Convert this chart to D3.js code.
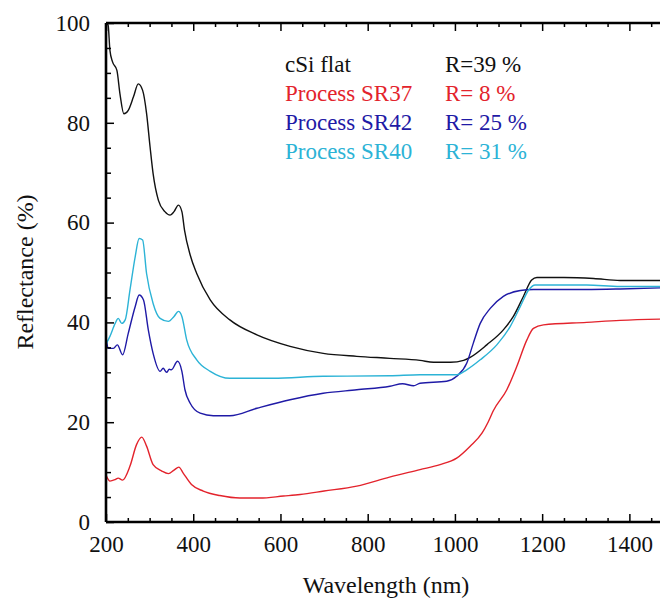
<!DOCTYPE html>
<html>
<head>
<meta charset="utf-8">
<script src="https://cdn.jsdelivr.net/npm/d3@7"></script>
<style>
  body { margin: 0; background: #fff; }
  svg text { font-family: "Liberation Serif", "DejaVu Serif", serif !important; }
</style>
</head>
<body>
<div id="my_dataviz"></div>
<script>
// wavelength (nm) / reflectance (%)
var cSiWl = [202, 205, 209, 215, 225, 232, 241, 251, 263, 274, 284, 293, 301, 308, 320, 335, 347, 356, 366, 374, 380, 393, 408, 439, 484, 546, 622, 698, 775, 851, 920, 951, 990, 1020, 1035, 1073, 1111, 1134, 1157, 1176, 1188, 1250, 1318, 1379, 1500];
var cSiR  = [100, 99.5, 94.5, 92.2, 90.5, 85.8, 81.8, 82.5, 85.2, 87.8, 86.5, 81.9, 75.2, 69.8, 64.5, 62.2, 61.5, 62.2, 63.5, 62.2, 58.5, 53.5, 49.8, 44.5, 40.5, 37.5, 35.2, 33.8, 33.2, 32.8, 32.4, 32.0, 32.0, 32.4, 33.0, 35.5, 38.5, 41.2, 45.2, 48.5, 49.0, 49.0, 48.8, 48.4, 48.4];

var sr37Wl = [201, 209, 221, 228, 238, 255, 270, 282, 293, 308, 328, 343, 356, 367, 377, 396, 423, 461, 507, 553, 607, 645, 700, 775, 850, 920, 966, 1004, 1035, 1062, 1076, 1088, 1119, 1142, 1165, 1180, 1203, 1302, 1379, 1500];
var sr37R  = [9.2, 8.2, 8.5, 8.8, 8.4, 11.2, 15.5, 17.0, 15.2, 11.5, 10.2, 9.7, 10.4, 11.0, 9.8, 7.5, 6.2, 5.3, 4.8, 4.8, 5.2, 5.5, 6.2, 7.2, 9.0, 10.5, 11.5, 12.8, 15.2, 17.8, 20.0, 22.3, 26.5, 31.2, 36.5, 38.8, 39.5, 40.0, 40.4, 40.7];

var sr42Wl = [201, 205, 217, 226, 238, 251, 267, 276, 286, 297, 308, 324, 331, 339, 345, 350, 364, 374, 381, 393, 416, 446, 484, 546, 622, 698, 775, 851, 880, 905, 920, 981, 1004, 1027, 1042, 1058, 1081, 1111, 1150, 1180, 1300, 1379, 1500];
var sr42R  = [36.5, 34.8, 34.8, 35.5, 33.5, 37.8, 43.2, 45.5, 44.5, 38.5, 33.8, 30.2, 30.8, 30.0, 30.6, 30.5, 32.2, 30.2, 26.5, 23.8, 21.8, 21.3, 21.3, 22.8, 24.5, 25.8, 26.5, 27.2, 27.7, 27.3, 27.8, 28.2, 29.2, 31.8, 35.8, 39.8, 42.8, 45.2, 46.4, 46.6, 46.6, 46.7, 47.0];

var sr40Wl = [201, 209, 221, 228, 236, 244, 255, 267, 276, 284, 293, 308, 324, 343, 356, 366, 374, 385, 408, 439, 484, 583, 698, 851, 920, 1004, 1027, 1058, 1096, 1127, 1150, 1169, 1184, 1302, 1379, 1500];
var sr40R  = [35.8, 37.2, 39.8, 40.8, 39.8, 40.5, 46.5, 53.2, 56.8, 56.5, 49.8, 43.8, 40.8, 40.2, 41.2, 42.2, 41.2, 36.5, 32.5, 30.2, 28.8, 28.8, 29.2, 29.3, 29.5, 29.5, 30.5, 32.5, 35.5, 39.2, 43.2, 46.5, 47.5, 47.5, 47.2, 47.2];

var seriesNames  = ["cSi flat", "Process SR37", "Process SR42", "Process SR40"];
var seriesLabels = ["R=39 %", "R= 8 %", "R= 25 %", "R= 31 %"];
var seriesColors = ["#111111", "#e3232c", "#1f1aa6", "#2cb3d6"];

var xTicks = [200, 400, 600, 800, 1000, 1200, 1400];
var yTicks = [0, 20, 40, 60, 80, 100];

var series = [
  { wl: cSiWl,  r: cSiR },
  { wl: sr37Wl, r: sr37R },
  { wl: sr42Wl, r: sr42R },
  { wl: sr40Wl, r: sr40R }
];

var margin = {top: 23, left: 106},
    W = 660, H = 601,
    width = 567,          // 200..1500 nm, the right end is cut off by the picture
    height = 499;

var svg = d3.select("#my_dataviz")
  .append("svg")
    .attr("width", W)
    .attr("height", H);

var g = svg.append("g")
    .attr("transform", "translate(" + margin.left + "," + margin.top + ")");

var x = d3.scaleLinear().domain([200, 1500]).range([0, width]);
var y = d3.scaleLinear().domain([0, 100]).range([height, 0]);

svg.append("defs").append("clipPath").attr("id", "plotclip")
  .append("rect").attr("x", 0).attr("y", 0).attr("width", width).attr("height", height);

// curves
var line = d3.line()
  .x(function(d) { return x(d[0]); })
  .y(function(d) { return y(d[1]); })
  .curve(d3.curveMonotoneX);

g.append("g").attr("clip-path", "url(#plotclip)")
  .selectAll("path")
  .data(series)
  .enter()
  .append("path")
    .attr("d", function(s) { return line(s.wl.map(function(w, i) { return [w, s.r[i]]; })); })
    .attr("fill", "none")
    .attr("stroke", function(s, i) { return seriesColors[i]; })
    .attr("stroke-width", 1.4);

// axes, ticks pointing inwards
var xMinor = d3.range(200, 1501, 50).filter(function(v) { return v % 200 !== 0; });
var yMinor = d3.range(0, 101, 5).filter(function(v) { return v % 20 !== 0; });

var bottomAxis = g.append("g")
  .attr("transform", "translate(0," + height + ")")
  .call(d3.axisBottom(x).tickValues(xTicks).tickSize(-8).tickPadding(14).tickFormat(d3.format("d")));
bottomAxis.append("g").call(d3.axisBottom(x).tickValues(xMinor).tickSize(-4).tickFormat(""));

var topAxis = g.append("g")
  .call(d3.axisTop(x).tickValues(xTicks).tickSize(-8).tickFormat(""));
topAxis.append("g").call(d3.axisTop(x).tickValues(xMinor).tickSize(-4).tickFormat(""));

var leftAxis = g.append("g")
  .call(d3.axisLeft(y).tickValues(yTicks).tickSize(-8).tickPadding(16));
leftAxis.append("g").call(d3.axisLeft(y).tickValues(yMinor).tickSize(-5).tickFormat(""));

g.selectAll(".domain").remove();
g.selectAll(".tick line").attr("stroke", "#000").attr("stroke-width", 1.5);
g.selectAll(".tick text")
  .attr("fill", "#111")
  .style("font-size", "23px");

// frame lines
g.append("line").attr("x1", 0).attr("x2", 0).attr("y1", 0).attr("y2", height)
  .attr("stroke", "#000").attr("stroke-width", 2.6);
g.append("line").attr("x1", 0).attr("x2", W).attr("y1", height).attr("y2", height)
  .attr("stroke", "#000").attr("stroke-width", 2.6);
g.append("line").attr("x1", 0).attr("x2", W).attr("y1", 0).attr("y2", 0)
  .attr("stroke", "#000").attr("stroke-width", 2.6);

// axis titles
svg.append("text")
  .attr("x", 386).attr("y", 593)
  .attr("text-anchor", "middle")
  .style("font-size", "24px")
  .attr("fill", "#111")
  .text("Wavelength (nm)");

svg.append("text")
  .attr("transform", "translate(33,272) rotate(-90)")
  .attr("text-anchor", "middle")
  .style("font-size", "24px")
  .attr("fill", "#111")
  .text("Reflectance (%)");

// legend
var legend = svg.selectAll("g.legend")
  .data(seriesNames)
  .enter()
  .append("g")
    .attr("class", "legend")
    .attr("transform", function(d, i) { return "translate(0," + (72 + i * 29) + ")"; });

legend.append("text")
  .attr("x", 285)
  .style("font-size", "23px")
  .attr("fill", function(d, i) { return seriesColors[i]; })
  .text(function(d) { return d; });

legend.append("text")
  .attr("x", 445)
  .style("font-size", "23px")
  .attr("fill", function(d, i) { return seriesColors[i]; })
  .text(function(d, i) { return seriesLabels[i]; });
</script>
</body>
</html>
